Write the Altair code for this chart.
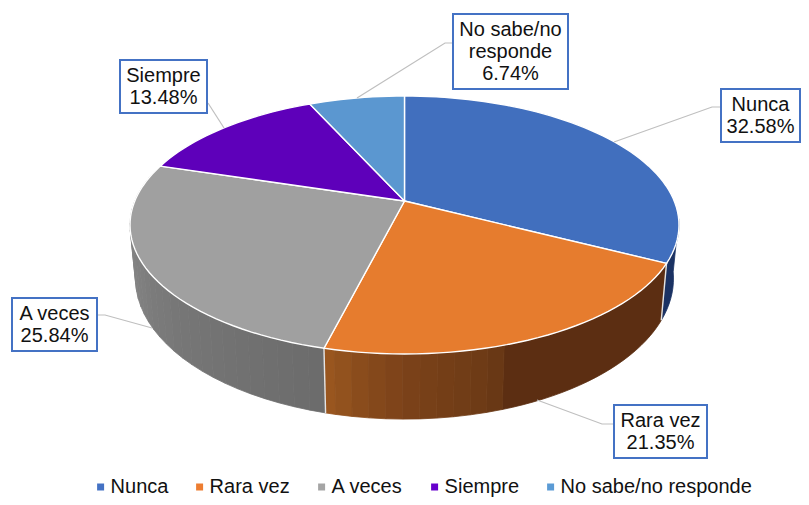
import math
import altair as alt
import pandas as pd

# ---- chart values ----
categories = ["Nunca", "Rara vez", "A veces", "Siempre", "No sabe/no responde"]
shares = [32.58, 21.35, 25.84, 13.48, 6.74]
top_colors = ["#416FBE", "#E67C2E", "#A0A0A0", "#5E00BA", "#5B97D0"]
legend_colors = ["#4472C4", "#ED7D31", "#A5A5A5", "#6600CC", "#5B9BD5"]
label_lines = [["Nunca", "32.58%"], ["Rara vez", "21.35%"], ["A veces", "25.84%"],
               ["Siempre", "13.48%"], ["No sabe/no", "responde", "6.74%"]]

# ---- layout (screen pixels) ----
CX, CY = 404.5, 201.0
A, B, C = 269.7, 124.5, 0.186          # perspective disc
SX, SY, DY = 0.98, 1.09, 33.3          # lower rim relative to the top rim
boxes = [(721, 800, 89, 142), (614, 707, 405, 458), (12, 97, 298, 351),
         (120, 207, 60, 113), (453, 568, 14, 89)]
leaders = [[(721, 107), (712, 107), (614, 142)],
           [(614, 424), (602, 424), (537, 400)],
           [(97, 315), (105, 315), (152, 328)],
           [(208, 103), (224, 128)],
           [(453, 43), (445, 43), (357, 98)]]
side_stops = {
    0: [(98, "#1B3263"), (117.3, "#1B3263")],
    1: [(117.3, "#5C2E12"), (163, "#5C2E12"), (164, "#6C3A16"), (172, "#733E17"),
        (179, "#7A4119"), (188, "#8A4C1C"), (194.1, "#9C5820")],
    2: [(194.1, "#6B6B6B"), (215, "#727272"), (235, "#7A7A7A"), (255, "#858585"), (285, "#8E8E8E")],
}


def top_pt(deg):
    t = math.radians(deg)
    w = 1 + C * math.cos(t)
    return CX + A * math.sin(t) / w, CY - B * math.cos(t) / w


def low_pt(deg):
    x, y = top_pt(deg)
    return CX + SX * (x - CX), DY + SY * y


def mix(stops, deg):
    for (d0, c0), (d1, c1) in zip(stops, stops[1:]):
        if d0 <= deg <= d1:
            f = (deg - d0) / (d1 - d0) if d1 > d0 else 0
            rgb = [round(int(c0[i:i + 2], 16) * (1 - f) + int(c1[i:i + 2], 16) * f) for i in (1, 3, 5)]
            return "#%02X%02X%02X" % tuple(rgb)
    return stops[-1][1]


edges = [0.0]
for s in shares:
    edges.append(edges[-1] + s / sum(shares) * 360)

top_rows = []
for i, name in enumerate(categories):
    pts = [(CX, CY)]
    d0, d1 = edges[i], edges[i + 1]
    n = max(4, int((d1 - d0) / 2))
    pts += [top_pt(d0 + (d1 - d0) * k / n) for k in range(n + 1)] + [(CX, CY)]
    top_rows += [{"cat": name, "o": k, "x": x, "y": y} for k, (x, y) in enumerate(pts)]

# one polygon per run of rim with the same shade
strips = []
for sid in side_stops:
    stops = side_stops[sid]
    a, b = stops[0][0], stops[-1][0]
    d = a
    while d < b - 1e-6:
        e = min(d + 3.0, b)
        col = mix(stops, (d + e) / 2)
        if strips and strips[-1][2] == col:
            strips[-1] = (strips[-1][0], e, col)
        else:
            strips.append((d, e, col))
        d = e
strips.sort(key=lambda s: -abs((s[0] + s[1]) / 2 - 180))
side_rows = []
for j, (d, e, col) in enumerate(strips):
    n = max(1, int((e - d) / 2))
    rim = [d + (e - d) * k / n for k in range(n + 1)]
    q = [top_pt(v) for v in rim] + [low_pt(v) for v in reversed(rim)] + [top_pt(d)]
    side_rows += [{"sid": f"{j:03d}", "col": col, "o": k, "x": x, "y": y} for k, (x, y) in enumerate(q)]

div_rows = []
for g, deg in enumerate(edges[1:3]):
    div_rows += [{"g": g, "o": k, "x": p[0], "y": p[1]} for k, p in enumerate([top_pt(deg), low_pt(deg)])]
lead_rows = [{"g": g, "o": k, "x": p[0], "y": p[1]} for g, L in enumerate(leaders) for k, p in enumerate(L)]
box_rows = [{"x": b[0], "x2": b[1], "y": b[2], "y2": b[3]} for b in boxes]
text_rows = []
for b, lines in zip(boxes, label_lines):
    cx = (b[0] + b[1]) / 2
    cy = (b[2] + b[3]) / 2
    for k, line in enumerate(lines):
        text_rows.append({"x": cx, "y": cy + (k - (len(lines) - 1) / 2) * 22, "t": line})

X = alt.X("x:Q", scale=alt.Scale(domain=[8, 801], range=[0, 793]), axis=None)
Y = alt.Y("y:Q", scale=alt.Scale(domain=[8, 497], range=[0, 489]), axis=None)

side = alt.Chart(pd.DataFrame(side_rows)).mark_line(filled=True, strokeWidth=0.8, opacity=1).encode(
    x=X, y=Y, detail="sid:N", order="o:Q",
    fill=alt.Fill("col:N", scale=None, legend=None),
    stroke=alt.Stroke("col:N", scale=None, legend=None),
)
dividers = alt.Chart(pd.DataFrame(div_rows)).mark_line(color="#E4E4E4", strokeWidth=1.4).encode(
    x=X, y=Y, detail="g:N", order="o:Q")
top = alt.Chart(pd.DataFrame(top_rows)).mark_line(filled=True, stroke="#FFFFFF", strokeWidth=1.4, opacity=1).encode(
    x=X, y=Y, detail="cat:N", order="o:Q",
    fill=alt.Fill("cat:N", scale=alt.Scale(domain=categories, range=top_colors), legend=None),
)
legend_src = alt.Chart(pd.DataFrame({"cat": categories})).mark_square(opacity=0).encode(
    color=alt.Color("cat:N", scale=alt.Scale(domain=categories, range=legend_colors),
                    sort=categories,
                    legend=alt.Legend(orient="none", legendX=82.6, legendY=469, direction="horizontal",
                                      columns=5, title=None, symbolType="square", symbolSize=49,
                                      symbolOpacity=1, symbolStrokeWidth=0, labelFont="Liberation Sans",
                                      labelFontSize=20, labelColor="#111111", columnPadding=21,
                                      labelOffset=0, labelLimit=400, padding=0)))
lead = alt.Chart(pd.DataFrame(lead_rows)).mark_line(color="#BFBFBF", strokeWidth=1.2).encode(
    x=X, y=Y, detail="g:N", order="o:Q")
box = alt.Chart(pd.DataFrame(box_rows)).mark_rect(fill="#FFFFFF", stroke="#4472C4", strokeWidth=2).encode(
    x=X, x2="x2:Q", y=Y, y2="y2:Q")
text = alt.Chart(pd.DataFrame(text_rows)).mark_text(font="Liberation Sans", fontSize=20, color="#111111").encode(
    x=X, y=Y, text="t:N")

chart = alt.layer(side, dividers, top, legend_src, lead, box, text).resolve_scale(
    color="independent", fill="independent", stroke="independent"
).properties(width=793, height=489, padding=0, autosize=alt.AutoSizeParams(type="none")).configure_view(stroke=None)
chart.save("out.html", embed_options={"renderer": "svg", "actions": False})
